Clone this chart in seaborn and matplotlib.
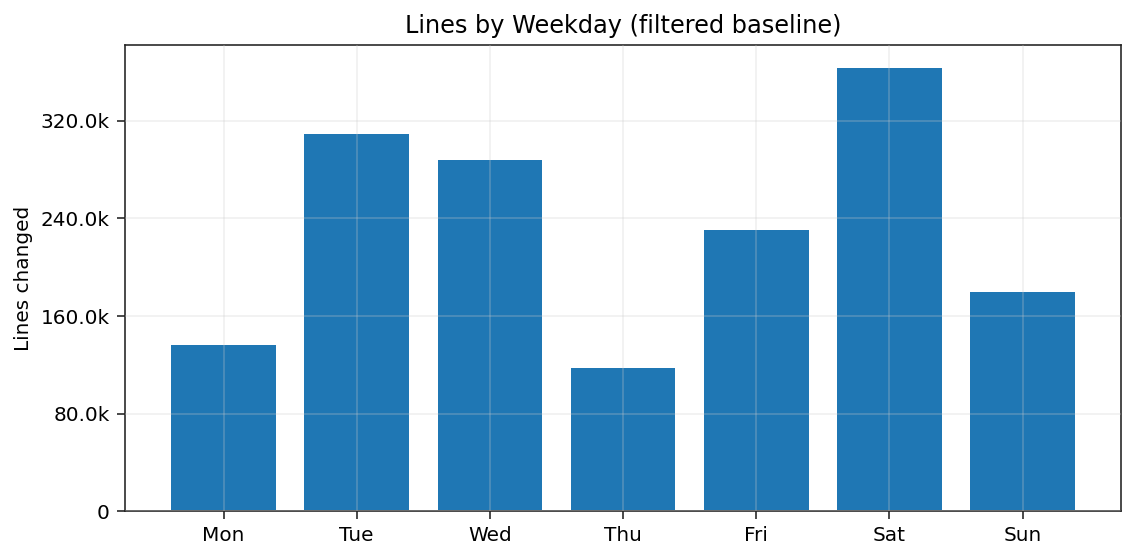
import matplotlib
matplotlib.use("Agg")
import matplotlib.pyplot as plt
import matplotlib.ticker as mticker
import seaborn as sns
import pandas as pd

days = ["Mon", "Tue", "Wed", "Thu", "Fri", "Sat", "Sun"]
lines_changed = [137500, 310000, 289000, 118700, 231600, 364000, 180900]

df = pd.DataFrame({"Weekday": days, "Lines": lines_changed})

sns.set_style("white")
plt.rcParams["font.family"] = ["DejaVu Sans"]
plt.rcParams["text.color"] = "black"
plt.rcParams["axes.labelcolor"] = "black"
plt.rcParams["xtick.color"] = "black"
plt.rcParams["ytick.color"] = "black"

fig, ax = plt.subplots(figsize=(1136 / 144, 559 / 144), dpi=144)
sns.barplot(data=df, x="Weekday", y="Lines", color="#1f77b4", saturation=1,
            width=0.8, ax=ax, zorder=1)
ax.set_xlim(-0.74, 6.74)
ax.set_ylim(0, 364000 * 1.05)
ax.yaxis.set_major_locator(mticker.MultipleLocator(80000))
ax.yaxis.set_major_formatter(
    mticker.FuncFormatter(lambda v, p: "0" if v == 0 else f"{v / 1000:.1f}k"))
ax.grid(True, alpha=0.3, zorder=3)
ax.set_axisbelow(False)
for s in ax.spines.values():
    s.set_color("#222222")
ax.tick_params(axis="both", length=4, color="#222222", labelsize=10, left=True, bottom=True)
ax.set_title("Lines by Weekday (filtered baseline)", fontsize=12, color="black")
ax.set_xlabel("")
ax.set_ylabel("Lines changed", fontsize=10)
fig.subplots_adjust(left=0.11, right=0.987, top=0.92, bottom=0.085)
fig.savefig("out.png", dpi=144)
